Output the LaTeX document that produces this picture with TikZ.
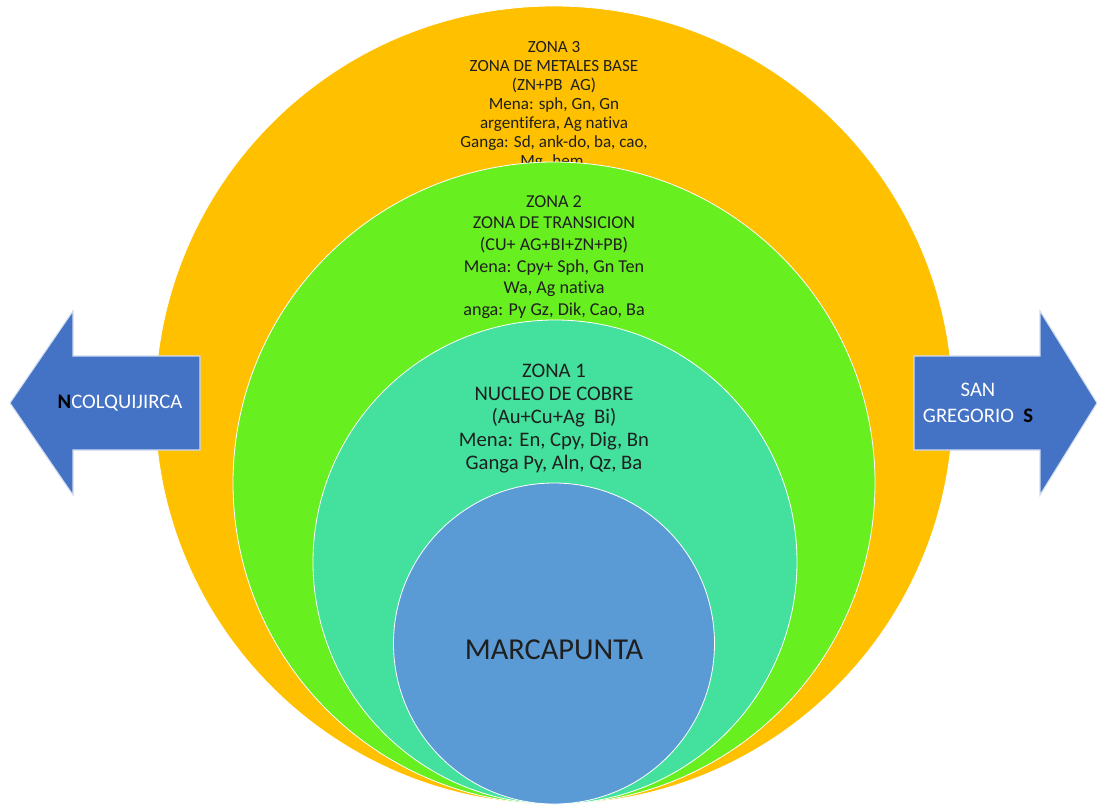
\documentclass[tikz,border=0pt]{standalone}
\usepackage{fontspec}
\setmainfont{Carlito}[Ligatures=NoCommon]
\usetikzlibrary{shapes,arrows,positioning}

\definecolor{zonethree}{HTML}{FFC000}
\definecolor{zonetwo}{HTML}{68EF20}
\definecolor{zoneone}{HTML}{43E19D}
\definecolor{core}{HTML}{5B9BD5}
\definecolor{pointer}{HTML}{4472C4}

\begin{document}
\begin{tikzpicture}[x=0.75pt, y=-0.75pt]
	\tikzstyle{Ring}	= [circle, draw=white, line width=0.6pt, inner sep=0pt]
	\tikzstyle{Info}	= [align=center, text=black!88, inner sep=0pt]
	\tikzstyle{Dir}		= [fill=pointer, draw=white!75!pointer, line width=0.8pt]
	\tikzstyle{DirText}	= [align=center, text=white, inner sep=0pt, font=\fontsize{15.5}{19.5}\selectfont]

	\useasboundingbox (0,0) rectangle (1097,807);

	% zona 3
	\node (z3) at (554,405) [Ring, fill=zonethree, minimum size=598.5pt] {};
	\node (t3) at (554,105) [Info, font=\fontsize{12.8}{14.25}\selectfont]
		{ZONA 3\\ZONA DE METALES BASE\\(ZN+PB\ \ AG)\\Mena: sph, Gn, Gn\\argentifera, Ag nativa\\Ganga: Sd, ank-do, ba, cao,\\Mg. hem.};

	% zona 2
	\node (z2) at (554,483) [Ring, fill=zonetwo, minimum size=481.5pt] {};
	\node (t2) at (554,257) [Info, font=\fontsize{13.6}{16.2}\selectfont]
		{ZONA 2\\ZONA DE TRANSICION\\(CU+ AG+BI+ZN+PB)\\Mena: Cpy+ Sph, Gn Ten\\Wa, Ag nativa\\anga: Py Gz, Dik, Cao, Ba};

	% zona 1
	\node (z1) at (555,562) [Ring, fill=zoneone, minimum size=363pt] {};
	\node (t1) at (554,419) [Info, font=\fontsize{15.5}{17.25}\selectfont]
		{ZONA 1\\NUCLEO DE COBRE\\(Au+Cu+Ag\ \ Bi)\\Mena: En, Cpy, Dig, Bn\\Ganga Py, Aln, Qz, Ba};

	% nucleo
	\node (z0) at (554,643.5) [Ring, fill=core, minimum size=240.75pt] {};
	\node (t0) at (554,650) [Info, font=\fontsize{22.8}{27}\selectfont] {MARCAPUNTA};

	% flechas
	\draw[Dir] (10,403) -- (73,311) -- (73,356) -- (200,356) -- (200,450) -- (73,450) -- (73,495) -- cycle;
	\draw[Dir] (1097,403) -- (1040,311) -- (1040,356) -- (914,356) -- (914,450) -- (1040,450) -- (1040,495) -- cycle;
	\node (north) at (120,403) [DirText] {\textcolor{black}{\textbf{N}}COLQUIJIRCA};
	\node (south) at (978,403) [DirText] {SAN\\GREGORIO\ \ \textcolor{black}{\textbf{S}}};
\end{tikzpicture}
\end{document}
